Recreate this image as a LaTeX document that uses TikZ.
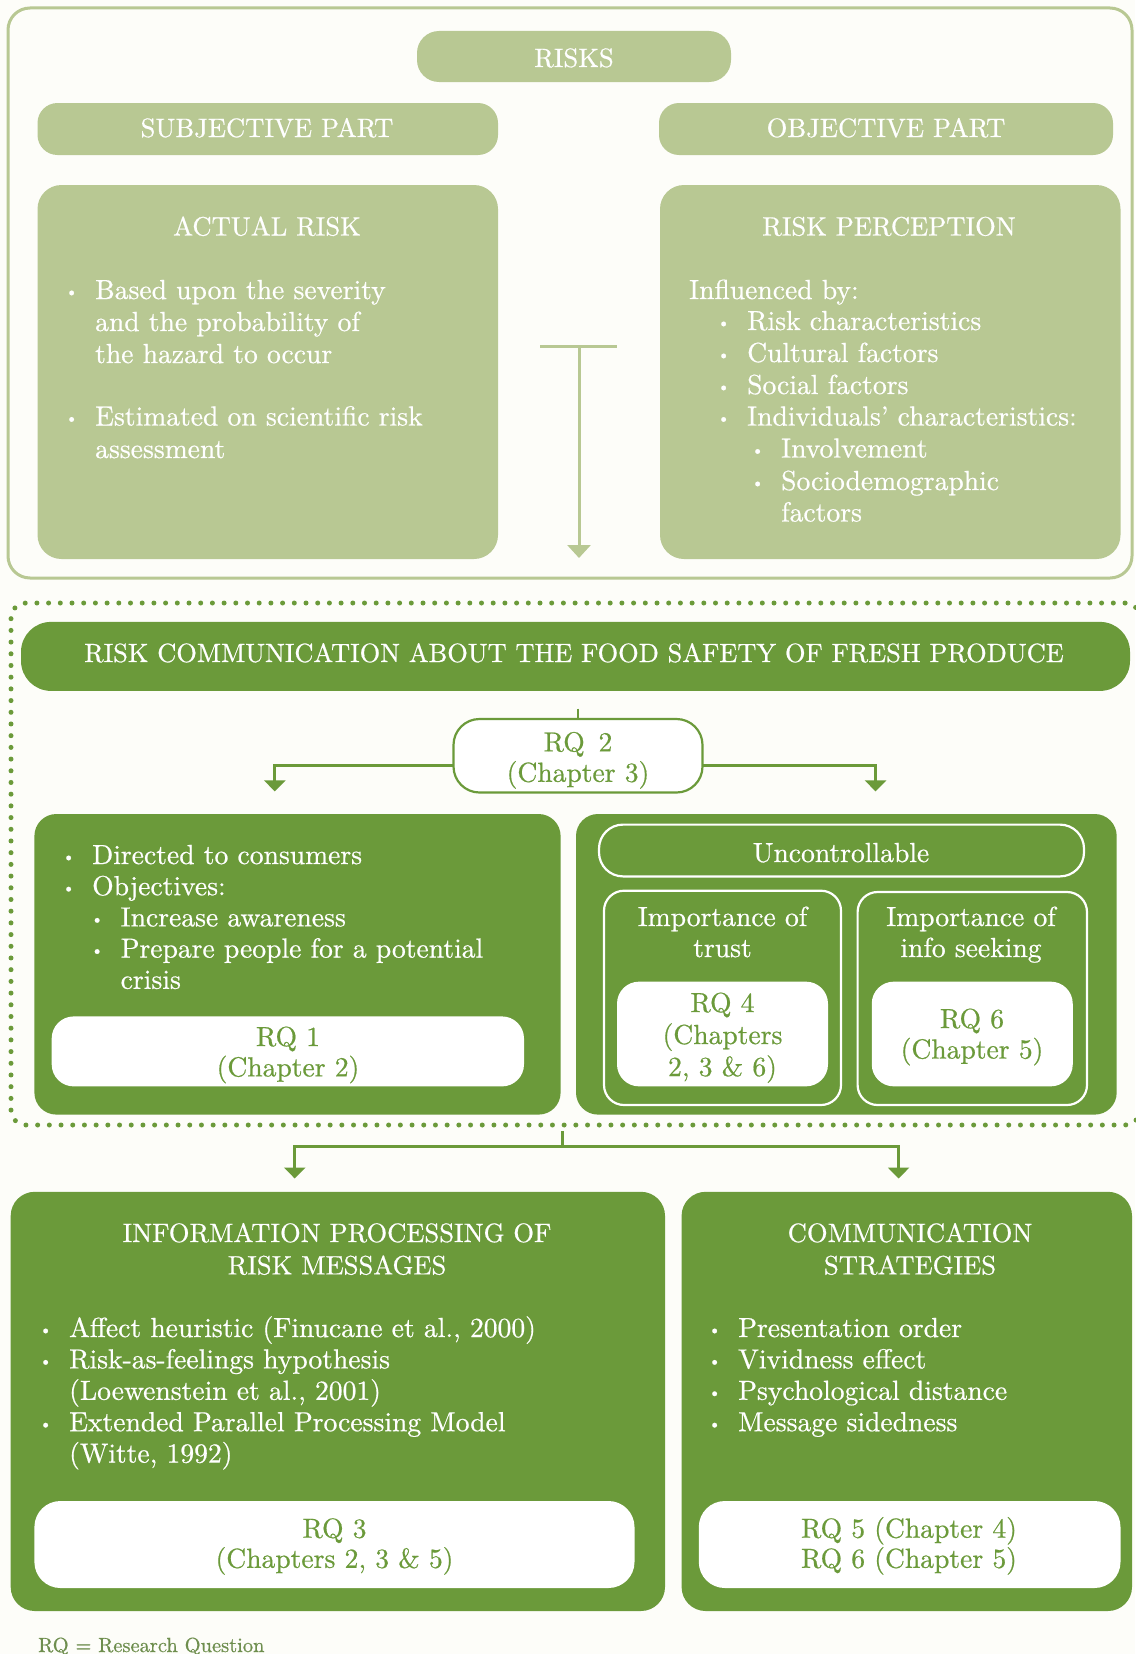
\documentclass[tikz,border=0pt]{standalone}
\usepackage{graphicx}
\usepackage{fontspec}
\setmainfont{lmroman10-regular.otf}[UprightFeatures={FakeBold=0.6}]
\usetikzlibrary{calc,arrows.meta}
\definecolor{lgreen}{HTML}{B8C893}
\definecolor{dgreen}{HTML}{6B9A3A}
\definecolor{bgc}{HTML}{FDFDF9}
\definecolor{notec}{HTML}{6E8E4E}
\newcommand\mybul{\makebox[30pt][l]{\raisebox{0.08em}{\scalebox{0.6}{\textbullet}}}}
\begin{document}
\begin{tikzpicture}[x=1pt,y=-1pt,
  bxs/.style={inner sep=0pt, outer sep=0pt},
  lightbox/.style={bxs, fill=lgreen, rounded corners=20pt},
  darkbox/.style={bxs, fill=dgreen, rounded corners=22pt},
  whitebox/.style={bxs, fill=white, rounded corners=22pt},
  linebox/.style={bxs, draw=white, line width=2.2pt, rounded corners=20pt},
  hd/.style={inner sep=0pt, anchor=base, text=white, font=\fontsize{26.6}{31}\selectfont},
  tx/.style={inner sep=0pt, anchor=base west, text=white, font=\fontsize{27.6}{32}\selectfont},
  ct/.style={inner sep=0pt, anchor=base, text=white, font=\fontsize{27.6}{32}\selectfont},
  gt/.style={ct, text=dgreen},
  larr/.style={draw=lgreen, line width=3pt, -{Triangle[width=23pt,length=13pt]}},
  darr/.style={draw=dgreen, line width=3pt, -{Triangle[width=21pt,length=11pt]}},
  dline/.style={draw=dgreen, line width=2.5pt},
  lline/.style={draw=lgreen, line width=3pt}]
\useasboundingbox (0,0) rectangle (1135,1654);
\fill[bgc] (0,0) rectangle (1135,1654);

% ---------- top part ----------
\node[bxs, draw=lgreen, line width=3pt, rounded corners=22pt, minimum width=1124pt, minimum height=570pt] (topframe) at (570,293) {};
\node[lightbox, rounded corners=22pt, minimum width=314pt, minimum height=51pt] (risks) at (574,56.5) {};
\node[hd] (risksT) at (574,67) {RISKS};
\node[lightbox, minimum width=460.5pt, minimum height=52pt] (subj) at (267.75,129) {};
\node[hd] (subjT) at (267,137) {SUBJECTIVE PART};
\node[lightbox, minimum width=454pt, minimum height=52pt] (obj) at (886,129) {};
\node[hd] (objT) at (886,137) {OBJECTIVE PART};

\node[lightbox, rounded corners=24pt, minimum width=460.5pt, minimum height=374pt] (actual) at (267.75,372) {};
\node[hd] (actualT) at (267,235.5) {ACTUAL RISK};
\node[tx] (a1) at (65,299) {\mybul Based upon the severity};
\node[tx] (a2) at (95,331) {and the probability of};
\node[tx] (a3) at (95,363) {the hazard to occur};
\node[tx] (a4) at (65,425.5) {\mybul Estimated on scientific risk};
\node[tx] (a5) at (95,458) {assessment};

\node[lightbox, rounded corners=24pt, minimum width=460.5pt, minimum height=374pt] (perc) at (890.25,372) {};
\node[hd] (percT) at (889,235.5) {RISK PERCEPTION};
\node[tx] (p0) at (689,299) {Influenced by:};
\node[tx] (p1) at (717,330) {\mybul Risk characteristics};
\node[tx] (p2) at (717,362) {\mybul Cultural factors};
\node[tx] (p3) at (717,394) {\mybul Social factors};
\node[tx] (p4) at (717,425.5) {\mybul Individuals’ characteristics:};
\node[tx] (p5) at (751,457.5) {\mybul Involvement};
\node[tx] (p6) at (751,490) {\mybul Sociodemographic};
\node[tx] (p7) at (781,521.5) {factors};

\coordinate (tbl) at (540,346);
\coordinate (tbr) at (617,346);
\coordinate (tbm) at (579,346);
\coordinate (tbe) at (579,558);
\draw[lline] (tbl) -- (tbr);
\draw[larr] (tbm) -- (tbe);

% ---------- middle part ----------
\node[bxs, draw=dgreen, line width=5pt, dash pattern=on 0pt off 11.7pt, line cap=round, rounded corners=15pt, minimum width=1129pt, minimum height=522pt] (dots) at (575.5,864) {};
\node[darkbox, rounded corners=30pt, minimum width=1109pt, minimum height=69pt] (banner) at (575.5,656.4) {};
\node[hd, font=\fontsize{26.4}{30}\selectfont] (bannerT) at (574,662) {RISK COMMUNICATION ABOUT THE FOOD SAFETY OF FRESH PRODUCE};

\node[bxs, fill=white, draw=dgreen, line width=2.2pt, rounded corners=26pt, minimum width=249pt, minimum height=73.5pt] (rq2) at (578,755.75) {};
\node[gt] (rq2a) at (578,751.4) {RQ\enspace 2};
\node[gt] (rq2b) at (578,781.8) {(Chapter 3)};

\node[darkbox, minimum width=526.2pt, minimum height=300.6pt] (lbox) at (297.5,964.3) {};
\node[tx] (l1) at (62,864) {\mybul Directed to consumers};
\node[tx] (l2) at (62,895.2) {\mybul Objectives:};
\node[tx] (l3) at (90.5,926.4) {\mybul Increase awareness};
\node[tx] (l4) at (90.5,957.6) {\mybul Prepare people for a potential};
\node[tx] (l5) at (120.5,988.8) {crisis};
\node[whitebox, minimum width=472.3pt, minimum height=70pt] (rq1) at (287.85,1051.4) {};
\node[gt] (rq1a) at (288,1046) {RQ 1};
\node[gt] (rq1b) at (288,1076.4) {(Chapter 2)};

\node[darkbox, minimum width=540.7pt, minimum height=300.6pt] (rbox) at (846.35,964.3) {};
\node[linebox, rounded corners=24pt, minimum width=485pt, minimum height=51.8pt] (unc) at (841.5,850.5) {};
\node[ct] (uncT) at (841,862) {Uncontrollable};
\node[linebox, minimum width=237pt, minimum height=214.3pt] (trust) at (722.5,997.85) {};
\node[linebox, minimum width=229.4pt, minimum height=213pt] (info) at (972.3,998.5) {};
\node[ct] (tr1) at (722.5,926) {Importance of};
\node[ct] (tr2) at (722.5,957) {trust};
\node[ct] (in1) at (971,926) {Importance of};
\node[ct] (in2) at (971,957) {info seeking};
\node[whitebox, minimum width=211pt, minimum height=104.7pt] (rq4) at (722.5,1034) {};
\node[gt] (rq4a) at (722.5,1012) {RQ 4};
\node[gt] (rq4b) at (722.5,1044) {(Chapters};
\node[gt] (rq4c) at (722.5,1076) {2, 3 \& 6)};
\node[whitebox, minimum width=201pt, minimum height=104.7pt] (rq6) at (972.25,1034) {};
\node[gt] (rq6a) at (972,1028) {RQ 6};
\node[gt] (rq6b) at (972,1058.5) {(Chapter 5)};

\coordinate (tick1) at (578,708.6);
\draw[dline] (tick1) -- (rq2.north);
\draw[darr] ($(rq2.west)+(0,10)$) -| ($(lbox.north)+(-22.7,-22.6)$);
\draw[darr] ($(rq2.east)+(0,10)$) -| ($(rbox.north)+(29.2,-22.6)$);

% ---------- bottom part ----------
\node[darkbox, rounded corners=24pt, minimum width=654.3pt, minimum height=419.2pt] (ipbox) at (337.85,1401.4) {};
\node[hd] (ip1) at (337,1242) {INFORMATION PROCESSING OF};
\node[hd] (ip2) at (337,1274.4) {RISK MESSAGES};
\node[tx] (i1) at (39,1337) {\mybul Affect heuristic (Finucane et al., 2000)};
\node[tx] (i2) at (39,1368.4) {\mybul Risk-as-feelings hypothesis};
\node[tx] (i3) at (69,1399.8) {(Loewenstein et al., 2001)};
\node[tx] (i4) at (39,1431.2) {\mybul Extended Parallel Processing Model};
\node[tx] (i5) at (69,1462.6) {(Witte, 1992)};
\node[whitebox, rounded corners=26pt, minimum width=600.1pt, minimum height=87pt] (rq3) at (334.45,1544.5) {};
\node[gt] (rq3a) at (334.5,1537.7) {RQ 3};
\node[gt] (rq3b) at (334.5,1567.8) {(Chapters 2, 3 \& 5)};

\node[darkbox, rounded corners=24pt, minimum width=450.4pt, minimum height=419.2pt] (csbox) at (906.8,1401.4) {};
\node[hd] (cs1) at (910,1242) {COMMUNICATION};
\node[hd] (cs2) at (910,1274.4) {STRATEGIES};
\node[tx] (c1) at (708,1337) {\mybul Presentation order};
\node[tx] (c2) at (708,1368.4) {\mybul Vividness effect};
\node[tx] (c3) at (708,1399.8) {\mybul Psychological distance};
\node[tx] (c4) at (708,1431.2) {\mybul Message sidedness};
\node[whitebox, rounded corners=26pt, minimum width=421.7pt, minimum height=87pt] (rq56) at (909.65,1544.5) {};
\node[gt] (rq5a) at (909,1537.7) {RQ 5 (Chapter 4)};
\node[gt] (rq5b) at (909,1567.8) {RQ 6 (Chapter 5)};

\coordinate (tick2) at (562.6,1131);
\coordinate (split) at (562.6,1146.7);
\draw[dline] (tick2) -- (split);
\draw[darr] (split) -| ($(ipbox.north)+(-43.15,-13.3)$);
\draw[darr] (split) -| ($(csbox.north)+(-8.2,-13.3)$);

\node[tx, text=notec, font=\fontsize{20.5}{24}\selectfont] (note) at (38,1652) {RQ = Research Question};
\end{tikzpicture}
\end{document}
